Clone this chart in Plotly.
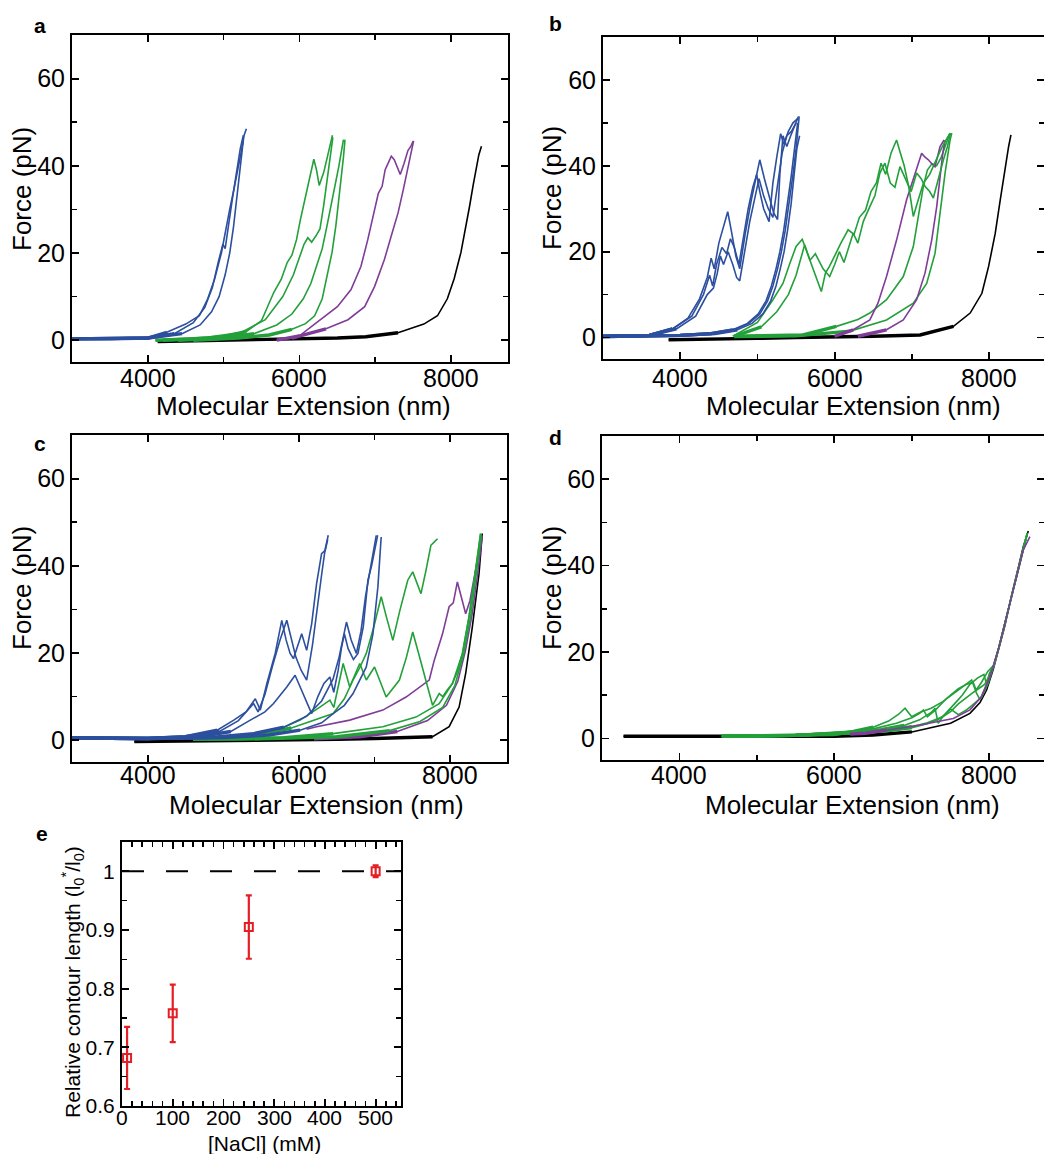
import plotly.graph_objects as go

# ---------------- colours ----------------
BLUE = "#2c4f9e"
GREEN = "#23a03a"
PURPLE = "#7f3d98"
BLACK = "#000000"
RED = "#e31e24"

# ---------------- panel a ----------------
A_BLUE_1_X = [3000, 3500, 4000, 4250, 4500, 4680, 4790, 4880, 4970, 5030, 5080, 5140, 5190, 5230, 5270, 5300]
A_BLUE_1_F = [0.3, 0.3, 0.5, 1.8, 3.7, 5.6, 9.5, 14, 20, 26, 30, 35, 39, 43, 47, 48.5]
A_BLUE_2_X = [3000, 4000, 4350, 4600, 4750, 4850, 4930, 4990, 5020, 5040, 5070, 5120, 5170, 5220, 5260]
A_BLUE_2_F = [0.3, 0.5, 1.5, 4, 7.5, 12, 18, 22, 21, 24, 27, 33, 39, 44, 47]
A_BLUE_3_X = [3000, 4000, 4450, 4690, 4840, 4940, 5020, 5080, 5130, 5170, 5210, 5240, 5260]
A_BLUE_3_F = [0.3, 0.5, 1.5, 3.5, 6.5, 10, 15, 20, 26, 32, 38, 43, 46]

A_GREEN_1_X = [4100, 4600, 5000, 5300, 5500, 5662, 5760, 5838, 5900, 5960, 6013, 6080, 6140, 6189, 6225, 6260, 6320, 6380, 6435]
A_GREEN_1_F = [0, 0.3, 0.8, 2, 4.5, 11, 14, 17.8, 19.5, 23, 27.7, 33, 38, 41.5, 39, 35.5, 38.5, 43, 47]
A_GREEN_2_X = [4200, 4800, 5200, 5550, 5780, 5920, 6000, 6060, 6110, 6160, 6220, 6270, 6320, 6360, 6400, 6440]
A_GREEN_2_F = [0, 0.5, 1.5, 4.7, 10, 15, 19, 22, 23.5, 22.5, 24, 25.5, 31, 36, 41, 46.5]
A_GREEN_3_X = [4400, 5000, 5400, 5700, 5900, 6050, 6150, 6230, 6300, 6360, 6420, 6470, 6520, 6560, 6580]
A_GREEN_3_F = [0, 0.5, 1.5, 3.5, 6, 9.5, 13, 17, 21, 26, 31, 36, 40, 44, 46]
A_GREEN_4_X = [4600, 5200, 5600, 5900, 6080, 6200, 6300, 6370, 6430, 6480, 6520, 6550, 6580, 6600]
A_GREEN_4_F = [0, 0.5, 1.2, 2.5, 3.8, 5.6, 9.5, 14.9, 20.2, 26.3, 32.3, 36.9, 42, 46]

A_PURPLE_1_X = [5700, 6000, 6217, 6500, 6680, 6810, 6900, 6970, 7040, 7090, 7130, 7170, 7211, 7250, 7290, 7329, 7380, 7430, 7470, 7500]
A_PURPLE_1_F = [0, 1, 3.9, 7.7, 11.6, 16.9, 23, 28.4, 33.7, 35.3, 39.1, 40.6, 42.2, 41.4, 39.8, 38, 40.6, 43.5, 44.5, 45.7]
A_PURPLE_2_X = [5900, 6349, 6640, 6860, 6990, 7120, 7210, 7300, 7370, 7430, 7470, 7490, 7505]
A_PURPLE_2_F = [0.5, 2.6, 4.7, 7.7, 12.3, 18.5, 23.9, 29.2, 34.6, 39.2, 43, 44.5, 45.7]

A_BLACK_X = [4130, 4500, 5000, 5500, 6000, 6500, 6875, 7300, 7640, 7820, 7950, 8040, 8130, 8200, 8245, 8290, 8330, 8365, 8400]
A_BLACK_F = [-0.3, -0.2, 0, 0.1, 0.3, 0.5, 0.8, 1.7, 3.7, 5.6, 9.5, 14.1, 20.2, 26.3, 30.9, 35.5, 39.5, 42.5, 44.5]

# ---------------- panel b ----------------
B_BLUE_SAW_1_X = [3000, 3600, 3900, 4100, 4250, 4350, 4400, 4440, 4500, 4560, 4615, 4660, 4720, 4770, 4840, 4920, 4980, 5030, 5090, 5150, 5210, 5260, 5290, 5330, 5380, 5430, 5480, 5530]
B_BLUE_SAW_1_F = [0.3, 0.5, 2, 4.5, 9, 14, 18.5, 16, 22, 26, 29.3, 25, 19, 16, 24, 32, 37, 41.4, 37, 33, 29, 27.5, 38, 47, 44.5, 47, 49.5, 51.5]
B_BLUE_SAW_2_X = [3000, 3600, 3900, 4150, 4300, 4380, 4420, 4470, 4540, 4600, 4650, 4700, 4760, 4820, 4880, 4940, 4990, 5030, 5080, 5150, 5200, 5250, 5300, 5340, 5400, 5460, 5520]
B_BLUE_SAW_2_F = [0.3, 0.5, 2, 5, 10, 14.5, 12, 17, 21, 19.5, 23, 21, 17, 24, 30, 35, 38, 34, 30, 27, 36, 42, 47.5, 45, 48, 50, 51]
B_BLUE_SAW_3_X = [3000, 3600, 3950, 4200, 4350, 4430, 4480, 4520, 4560, 4620, 4680, 4730, 4770, 4830, 4900, 4960, 5020, 5080, 5140, 5200, 5260, 5320, 5380, 5440, 5500]
B_BLUE_SAW_3_F = [0.3, 0.5, 2, 5, 10, 11.5, 15, 19, 17, 20, 17, 14, 13.2, 20, 27, 32, 37, 33, 30, 28, 35, 43, 47, 48, 50]
B_BLUE_1_X = [3000, 3600, 4000, 4400, 4680, 4870, 5010, 5110, 5180, 5240, 5290, 5340, 5390, 5440, 5480, 5520]
B_BLUE_1_F = [0.2, 0.3, 0.5, 0.9, 1.8, 3.3, 5.5, 8.5, 12, 16, 20, 25, 31, 38, 44, 50]
B_BLUE_2_X = [3000, 3600, 4000, 4400, 4700, 4890, 5030, 5130, 5200, 5260, 5310, 5360, 5410, 5460, 5500, 5540]
B_BLUE_2_F = [0.2, 0.3, 0.5, 0.9, 1.8, 3.3, 5.5, 8.5, 12, 16, 20, 25, 31, 38, 44, 51.5]
B_BLUE_3_X = [3000, 3600, 4000, 4450, 4740, 4930, 5070, 5170, 5240, 5295, 5345, 5390, 5435, 5475, 5510, 5545]
B_BLUE_3_F = [0.2, 0.3, 0.5, 0.9, 1.8, 3.3, 5.5, 8.5, 12, 16, 20, 25, 31, 38, 44, 47]

B_GREEN_SAW_1_X = [4680, 5000, 5200, 5330, 5420, 5500, 5580, 5680, 5760, 5827, 5880, 5930, 6000, 6080, 6174, 6250, 6320, 6400, 6470, 6540, 6600, 6660, 6730, 6801, 6850, 6900, 6960, 7018, 7080, 7150, 7230, 7300, 7380, 7440, 7494]
B_GREEN_SAW_1_F = [0.3, 3.5, 8.8, 12.6, 17.3, 21.2, 22.9, 18, 14, 10.7, 15, 16.5, 19, 22, 25.1, 24, 28, 29.7, 34, 36, 40.6, 38, 43, 46, 43, 40, 35, 28.2, 32, 36, 38, 41, 44, 46, 47.6]
B_GREEN_SAW_2_X = [4700, 5050, 5250, 5400, 5500, 5611, 5680, 5750, 5850, 5935, 6000, 6060, 6120, 6180, 6239, 6300, 6370, 6455, 6520, 6585, 6650, 6720, 6780, 6845, 6920, 6990, 7061, 7120, 7169, 7230, 7277, 7340, 7408, 7460, 7500]
B_GREEN_SAW_2_F = [0.3, 2.5, 6, 10, 14.5, 21.6, 18, 19.5, 16, 14.2, 17, 20, 17.5, 21, 24.3, 22, 27, 30.5, 33, 38.3, 40.6, 36, 35, 39.8, 37, 34, 38.3, 37, 35.2, 34, 32.5, 37, 41.4, 44.5, 47.6]
B_GREEN_1_X = [4700, 5589, 6022, 6300, 6455, 6671, 6888, 7018, 7083, 7148, 7200, 7260, 7320, 7380, 7440, 7490]
B_GREEN_1_F = [0.3, 0.6, 2.6, 4.2, 5.7, 8.8, 14.2, 21.2, 28.2, 35.2, 39, 40.5, 40, 42, 45, 47.5]
B_GREEN_2_X = [4700, 5500, 6200, 6671, 7018, 7191, 7299, 7364, 7429, 7494, 7516]
B_GREEN_2_F = [0.2, 0.4, 1.5, 4.1, 8, 12.6, 19.6, 28.9, 38.3, 46, 47.6]

B_PURPLE_1_X = [6000, 6239, 6455, 6560, 6671, 6801, 6931, 7039, 7126, 7170, 7213, 7256, 7299, 7364, 7416]
B_PURPLE_1_F = [0.3, 1.8, 4.1, 8, 14.2, 22.7, 32.1, 38.3, 42.9, 42, 41.4, 40.5, 39.8, 44.5, 46]
B_PURPLE_2_X = [6300, 6671, 6888, 7061, 7169, 7256, 7321, 7364, 7399, 7429]
B_PURPLE_2_F = [0.3, 1.8, 4.1, 8.8, 15, 22.7, 30.5, 37.5, 42.9, 46]

B_BLACK_X = [3850, 4500, 5000, 5500, 6000, 6500, 7105, 7538, 7754, 7906, 7992, 8079, 8144, 8209, 8252, 8282]
B_BLACK_F = [-0.5, -0.4, -0.2, 0, 0.1, 0.3, 0.6, 2.6, 5.7, 10.3, 16.5, 24.3, 32.1, 39.8, 44.5, 47.2]

# ---------------- panel c ----------------
C_BLUE_1_X = [3000, 3500, 4000, 4500, 4919, 5138, 5300, 5423, 5489, 5576, 5686, 5773, 5830, 5883, 5927, 6036, 6102, 6168, 6233, 6299, 6343, 6387]
C_BLUE_1_F = [0.5, 0.4, 0.4, 0.8, 2.3, 4.6, 6.5, 9.5, 6.9, 13, 19.9, 27.5, 23, 19.9, 18.7, 24.4, 20.6, 26.7, 35.9, 42.8, 43.5, 47]
C_BLUE_2_X = [3000, 3500, 4000, 4500, 4950, 5200, 5401, 5460, 5550, 5650, 5750, 5839, 5900, 5960, 6030, 6102, 6180, 6250, 6300, 6340, 6380]
C_BLUE_2_F = [0.5, 0.4, 0.4, 0.8, 2, 4.5, 8.4, 6.5, 10.5, 17, 23, 27.5, 23.5, 19, 16, 13.8, 22, 32, 38, 43, 46]
C_BLUE_3_X = [3000, 3500, 4000, 4600, 5100, 5357, 5550, 5664, 5760, 5839, 5949, 6058, 6120, 6168, 6250, 6330, 6409, 6460, 6518, 6560, 6600, 6650, 6720, 6780, 6850, 6912, 6960, 7000, 7040]
C_BLUE_3_F = [0.5, 0.4, 0.4, 0.6, 2, 4.6, 6.5, 8.4, 10.5, 12.2, 14.9, 10.7, 8, 6.1, 10, 13, 14.5, 11, 16, 21, 24.4, 21, 18.5, 19.9, 26, 36.7, 40, 44, 47]
C_BLUE_4_X = [3000, 4000, 4800, 5400, 5800, 6100, 6300, 6450, 6530, 6580, 6628, 6690, 6759, 6820, 6880, 6930, 6980, 7022]
C_BLUE_4_F = [0.5, 0.4, 0.6, 1.5, 3, 5.5, 9, 14, 19, 23.5, 27.1, 23, 19.9, 25, 33, 38, 43, 47]
C_BLUE_5_X = [3000, 4000, 5000, 5600, 6015, 6300, 6452, 6600, 6715, 6890, 6978, 7043, 7087]
C_BLUE_5_F = [0.5, 0.4, 0.6, 1.2, 2.3, 4, 6.1, 8, 10.7, 16.8, 24.4, 35.1, 46.6]

C_GREEN_1_X = [4700, 5200, 5708, 6015, 6277, 6409, 6460, 6584, 6671, 6803, 6890, 6999, 7153, 7328, 7420, 7504, 7580, 7656, 7766, 7854, 7900, 7960, 8029, 8100, 8161, 8248, 8336, 8401]
C_GREEN_1_F = [0.3, 0.8, 2.3, 4.6, 7.6, 9.2, 7.5, 17.6, 12.2, 17.6, 13.8, 16.8, 9.9, 13.8, 19, 24.8, 20, 15.3, 8, 10.7, 10, 11.5, 13, 16, 19.9, 28.3, 39, 47.4]
C_GREEN_2_X = [4800, 5400, 5900, 6200, 6452, 6600, 6715, 6800, 6890, 6990, 7087, 7160, 7241, 7330, 7438, 7504, 7560, 7613, 7680, 7744, 7790, 7832]
C_GREEN_2_F = [0.3, 1.2, 2.8, 4.5, 6.1, 9.5, 13.8, 16.5, 19.9, 26, 32.9, 28, 22.9, 29.5, 36.7, 38.6, 36, 33.6, 39, 44.7, 45.5, 46.2]
C_GREEN_3_X = [4600, 5200, 5800, 6452, 7109, 7547, 7854, 8029, 8161, 8248, 8336, 8401]
C_GREEN_3_F = [0.2, 0.3, 0.6, 1.5, 3.1, 5.3, 8.4, 13, 19.9, 28.3, 39, 47.4]
C_GREEN_4_X = [4600, 5500, 6500, 7200, 7600, 7900, 8060, 8180, 8270, 8350, 8410]
C_GREEN_4_F = [0.2, 0.3, 0.8, 2.2, 4.3, 7.5, 12.5, 20, 28.5, 38.5, 47]

C_PURPLE_1_X = [6100, 6233, 6671, 7109, 7416, 7591, 7722, 7788, 7898, 7985, 8040, 8094, 8150, 8204, 8260, 8320, 8380, 8420]
C_PURPLE_1_F = [2.5, 3.1, 4.6, 6.9, 9.9, 12.2, 13.8, 18.3, 24.4, 30.6, 31.5, 36.3, 32.5, 29, 32, 38, 44, 47]
C_PURPLE_2_X = [6200, 6800, 7300, 7700, 7950, 8100, 8200, 8290, 8360, 8420]
C_PURPLE_2_F = [0.3, 0.8, 2.0, 4.5, 8, 13.5, 20.5, 29, 38, 46.5]

C_BLACK_X = [3824, 4500, 5000, 5500, 6000, 6500, 7000, 7500, 7766, 7985, 8117, 8204, 8292, 8380, 8423]
C_BLACK_F = [-0.3, -0.2, -0.1, 0, 0.1, 0.2, 0.4, 0.6, 0.8, 3.1, 7.6, 15.3, 26, 38.2, 47.4]

# ---------------- panel d ----------------
D_BLACK_X = [3278, 3600, 4000, 4500, 5000, 5500, 6000, 6500, 7000, 7500, 7750, 7880, 7965, 8051, 8130, 8200, 8280, 8360, 8440, 8503]
D_BLACK_F = [0.5, 0.5, 0.4, 0.4, 0.4, 0.4, 0.5, 0.8, 1.5, 3.5, 5.8, 8.3, 11.2, 16, 21, 26, 32.5, 38.5, 44.5, 48]

D_GREEN_1_X = [4547, 5000, 5500, 6000, 6245, 6500, 6700, 6830, 6912, 6998, 7100, 7250, 7400, 7550, 7664, 7772, 7836, 7880, 7965, 8051, 8130, 8200, 8280, 8360, 8440, 8490]
D_GREEN_1_F = [0.5, 0.6, 0.7, 0.9, 1.6, 2.6, 4.0, 5.6, 7.0, 5.0, 6.0, 7.0, 8.5, 10.5, 12.0, 13.5, 10.4, 9.0, 12.5, 16.6, 21.5, 26.5, 32.5, 38.5, 44, 47.5]
D_GREEN_2_X = [4547, 5500, 6245, 6500, 6800, 7000, 7100, 7150, 7200, 7300, 7450, 7600, 7700, 7790, 7830, 7900, 7980, 8060, 8130, 8200, 8280, 8360, 8440, 8490]
D_GREEN_2_F = [0.5, 0.7, 1.5, 2.2, 3.5, 4.8, 5.8, 6.6, 5.0, 6.5, 9.3, 11.5, 12.5, 13.0, 11.2, 13, 15.5, 17, 21.5, 26.5, 32.5, 38.5, 44, 47.5]
D_GREEN_3_X = [4547, 5500, 6245, 6600, 6900, 7100, 7250, 7299, 7340, 7420, 7550, 7650, 7750, 7850, 7930, 7965, 8000, 8060, 8130, 8200, 8280, 8360, 8440, 8490]
D_GREEN_3_F = [0.5, 0.7, 1.4, 2.0, 3.0, 4.3, 6.0, 7.0, 3.5, 5.5, 8.0, 10.0, 12.5, 14.0, 14.8, 12.5, 15, 17, 21.5, 26.5, 32.5, 38.5, 44, 47.5]
D_GREEN_4_X = [4547, 5500, 6245, 6700, 7000, 7200, 7400, 7500, 7600, 7700, 7780, 7860, 7940, 8000, 8060, 8130, 8200, 8280, 8360, 8440, 8490]
D_GREEN_4_F = [0.5, 0.7, 1.3, 1.9, 2.7, 3.6, 5.0, 6.2, 8.0, 9.5, 10.5, 11.5, 12.5, 14.5, 17, 21.5, 26.5, 32.5, 38.5, 44, 47.5]
D_GREEN_5_X = [4547, 5500, 6245, 6700, 7000, 7200, 7350, 7449, 7500, 7600, 7700, 7800, 7900, 7980, 8060, 8130, 8200, 8280, 8360, 8440, 8490]
D_GREEN_5_F = [0.5, 0.7, 1.3, 1.8, 2.5, 3.4, 4.5, 5.8, 6.8, 5.5, 6.5, 8.0, 9.5, 12.5, 16.8, 21.5, 26.5, 32.5, 38.5, 44, 47.5]

D_PURPLE_1_X = [6202, 6400, 6675, 7105, 7535, 7750, 7900, 8008, 8115, 8201, 8287, 8373, 8438, 8524]
D_PURPLE_1_F = [1.0, 1.2, 1.9, 3.1, 4.6, 6.6, 9.7, 14.3, 20.5, 26.6, 32.8, 39, 43.6, 46.7]

# ---------------- panel e ----------------
E_NACL_MM = [10, 100, 250, 500]
E_REL_CONTOUR = [0.682, 0.758, 0.905, 1.0]
E_ERROR = [0.053, 0.049, 0.054, 0.010]
E_REFERENCE_LEVEL = 1.0

X_TICKS_FE = [4000, 6000, 8000]
X_TICK_TEXT_FE = ["4000", "6000", "8000"]
X_MINOR_FE = [3000, 5000, 7000]
Y_TICKS_FE = [0, 20, 40, 60]
Y_MINOR_FE = [10, 30, 50]
E_X_TICKS = [0, 100, 200, 300, 400, 500]
E_X_TICK_TEXT = ["0", "100", "200", "300", "400", "500"]
E_Y_TICKS = [0.6, 0.7, 0.8, 0.9, 1.0]
E_Y_TICK_TEXT = ["0.6", "0.7", "0.8", "0.9", "1"]
E_Y_MINOR = [0.65, 0.75, 0.85, 0.95]

# ---------------- figure ----------------
W, H = 1044, 1154
FONT = "Liberation Sans, Arial, Helvetica, sans-serif"
NOISE_LEVEL = 3.0   # force (pN) below which the trace is drawn as a noisy, thicker band

panels = {
    1: [(A_BLACK_X, A_BLACK_F, BLACK),
        (A_PURPLE_1_X, A_PURPLE_1_F, PURPLE), (A_PURPLE_2_X, A_PURPLE_2_F, PURPLE),
        (A_GREEN_1_X, A_GREEN_1_F, GREEN), (A_GREEN_2_X, A_GREEN_2_F, GREEN),
        (A_GREEN_3_X, A_GREEN_3_F, GREEN), (A_GREEN_4_X, A_GREEN_4_F, GREEN),
        (A_BLUE_1_X, A_BLUE_1_F, BLUE), (A_BLUE_2_X, A_BLUE_2_F, BLUE), (A_BLUE_3_X, A_BLUE_3_F, BLUE)],
    2: [(B_BLACK_X, B_BLACK_F, BLACK),
        (B_GREEN_1_X, B_GREEN_1_F, GREEN), (B_GREEN_2_X, B_GREEN_2_F, GREEN),
        (B_PURPLE_1_X, B_PURPLE_1_F, PURPLE), (B_PURPLE_2_X, B_PURPLE_2_F, PURPLE),
        (B_GREEN_SAW_1_X, B_GREEN_SAW_1_F, GREEN), (B_GREEN_SAW_2_X, B_GREEN_SAW_2_F, GREEN),
        (B_BLUE_1_X, B_BLUE_1_F, BLUE), (B_BLUE_2_X, B_BLUE_2_F, BLUE), (B_BLUE_3_X, B_BLUE_3_F, BLUE),
        (B_BLUE_SAW_1_X, B_BLUE_SAW_1_F, BLUE), (B_BLUE_SAW_2_X, B_BLUE_SAW_2_F, BLUE),
        (B_BLUE_SAW_3_X, B_BLUE_SAW_3_F, BLUE)],
    3: [(C_BLACK_X, C_BLACK_F, BLACK),
        (C_PURPLE_2_X, C_PURPLE_2_F, PURPLE), (C_PURPLE_1_X, C_PURPLE_1_F, PURPLE),
        (C_GREEN_3_X, C_GREEN_3_F, GREEN), (C_GREEN_4_X, C_GREEN_4_F, GREEN),
        (C_GREEN_1_X, C_GREEN_1_F, GREEN), (C_GREEN_2_X, C_GREEN_2_F, GREEN),
        (C_BLUE_5_X, C_BLUE_5_F, BLUE), (C_BLUE_4_X, C_BLUE_4_F, BLUE), (C_BLUE_3_X, C_BLUE_3_F, BLUE),
        (C_BLUE_2_X, C_BLUE_2_F, BLUE), (C_BLUE_1_X, C_BLUE_1_F, BLUE)],
    4: [(D_BLACK_X, D_BLACK_F, BLACK),
        (D_GREEN_1_X, D_GREEN_1_F, GREEN), (D_GREEN_2_X, D_GREEN_2_F, GREEN),
        (D_GREEN_3_X, D_GREEN_3_F, GREEN), (D_GREEN_4_X, D_GREEN_4_F, GREEN),
        (D_GREEN_5_X, D_GREEN_5_F, GREEN),
        (D_PURPLE_1_X, D_PURPLE_1_F, PURPLE)],
}

fig = go.Figure()
for idx, curves in panels.items():
    for xs, fs, col in curves:
        # low-force part: thermal noise makes the recorded trace a thicker band
        n = 0
        while n < len(fs) and fs[n] <= NOISE_LEVEL:
            n += 1
        if n >= 2:
            fig.add_trace(go.Scatter(
                x=xs[:n], y=fs[:n], mode="lines",
                line=dict(color=col, width=3.4),
                xaxis=f"x{idx}", yaxis=f"y{idx}",
                showlegend=False, hoverinfo="skip"))
        fig.add_trace(go.Scatter(
            x=xs, y=fs, mode="lines",
            line=dict(color=col, width=1.6),
            xaxis=f"x{idx}", yaxis=f"y{idx}",
            showlegend=False, hoverinfo="skip"))

# panel e
fig.add_trace(go.Scatter(
    x=E_NACL_MM, y=E_REL_CONTOUR, mode="markers",
    marker=dict(symbol="square-open", size=8, color=RED, line=dict(color=RED, width=2)),
    error_y=dict(type="data", array=E_ERROR, visible=True, color=RED, thickness=2.2, width=3),
    xaxis="x5", yaxis="y5", showlegend=False, hoverinfo="skip"))


def px2x(p):
    return p / W


def py2y(p):
    return 1 - p / H


common = dict(showline=True, linecolor="black", linewidth=2, mirror="ticks",
              ticks="inside", ticklen=7, tickwidth=1.8, tickcolor="black",
              showgrid=False, zeroline=False, automargin=False)
minor_common = dict(ticks="inside", ticklen=5, tickwidth=1.6, tickcolor="black", tickmode="array")

# domains (pixels) and the vertical centre of the x tick labels
dom = {
    1: ((72, 508), (35, 362), [3000, 8750], 378),
    2: ((603, 1044), (37, 359), [3000, 8710], 378),
    3: ((72, 507), (435, 762), [3000, 8750], 775),
    4: ((602, 1044), (436, 760), [3000, 8706], 775),
}

layout = dict(width=W, height=H, margin=dict(l=0, r=0, t=0, b=0, autoexpand=False),
              paper_bgcolor="white", plot_bgcolor="white", showlegend=False)

ann = []


def text(x, y, s, size, bold=False, angle=0):
    ann.append(dict(x=px2x(x), y=py2y(y), xref="paper", yref="paper", text=(f"<b>{s}</b>" if bold else s),
                    showarrow=False, xanchor="center", yanchor="middle", textangle=angle,
                    font=dict(family=FONT, size=size, color="black")))


def tick_labels(axis, vals, texts, y_px, size):
    # labels sit at the axis' own tick values
    for v, t in zip(vals, texts):
        ann.append(dict(x=v, y=py2y(y_px), xref=axis, yref="paper", text=t,
                        showarrow=False, xanchor="center", yanchor="middle",
                        font=dict(family=FONT, size=size, color="black")))


for idx, ((x0, x1), (y0, y1), xr, lab_y) in dom.items():
    layout[f"xaxis{idx}"] = dict(
        **common, domain=[px2x(x0), px2x(x1)], range=xr, anchor=f"y{idx}",
        tickmode="array", tickvals=X_TICKS_FE, showticklabels=False,
        minor=dict(**minor_common, tickvals=X_MINOR_FE))
    layout[f"yaxis{idx}"] = dict(
        **common, domain=[py2y(y1), py2y(y0)], range=[-5, 70], anchor=f"x{idx}",
        tickmode="array", tickvals=Y_TICKS_FE,
        tickfont=dict(family=FONT, size=25, color="black"), ticklabelstandoff=0,
        minor=dict(**minor_common, tickvals=Y_MINOR_FE))
    tick_labels(f"x{idx}", X_TICKS_FE, X_TICK_TEXT_FE, lab_y, 25)

layout["xaxis5"] = dict(
    **common, domain=[px2x(122), px2x(401)], range=[0, 550], anchor="y5",
    tickmode="array", tickvals=E_X_TICKS, showticklabels=False,
    minor=dict(**minor_common, tickvals=[v for v in range(20, 550, 20) if v % 100]))
layout["yaxis5"] = dict(
    **common, domain=[py2y(1106), py2y(842)], range=[0.6, 1.05], anchor="x5",
    tickmode="array", tickvals=E_Y_TICKS, ticktext=E_Y_TICK_TEXT,
    tickfont=dict(family=FONT, size=21, color="black"), ticklabelstandoff=1,
    minor=dict(**minor_common, tickvals=E_Y_MINOR))
tick_labels("x5", E_X_TICKS, E_X_TICK_TEXT, 1117, 21)

fig.update_layout(**layout)

fig.add_shape(type="line", xref="x5 domain", yref="y5", x0=0, x1=1,
              y0=E_REFERENCE_LEVEL, y1=E_REFERENCE_LEVEL,
              line=dict(color="black", width=2, dash="22px,22px"), layer="below")

for lab, (x, y) in {"a": (40, 25), "b": (555, 23), "c": (40, 443), "d": (555, 437), "e": (42, 833)}.items():
    text(x, y, lab, 21, bold=True)

for (x, y) in [(303, 406), (853, 406), (316, 805), (852, 805)]:
    text(x, y, "Molecular Extension (nm)", 26)
for (x, y) in [(22, 189), (552, 188), (22, 588), (552, 588)]:
    text(x, y, "Force (pN)", 26, angle=-90)

text(264, 1143, "[NaCl] (mM)", 21)
text(72, 982, "Relative contour length (l<sub>0</sub><sup>*</sup>/l<sub>0</sub>)", 21, angle=-90)

fig.update_layout(annotations=ann)
fig.write_html("out.html", config={"displayModeBar": False, "staticPlot": True},
               post_script="document.body.style.margin='0px';document.body.style.padding='0px';")
